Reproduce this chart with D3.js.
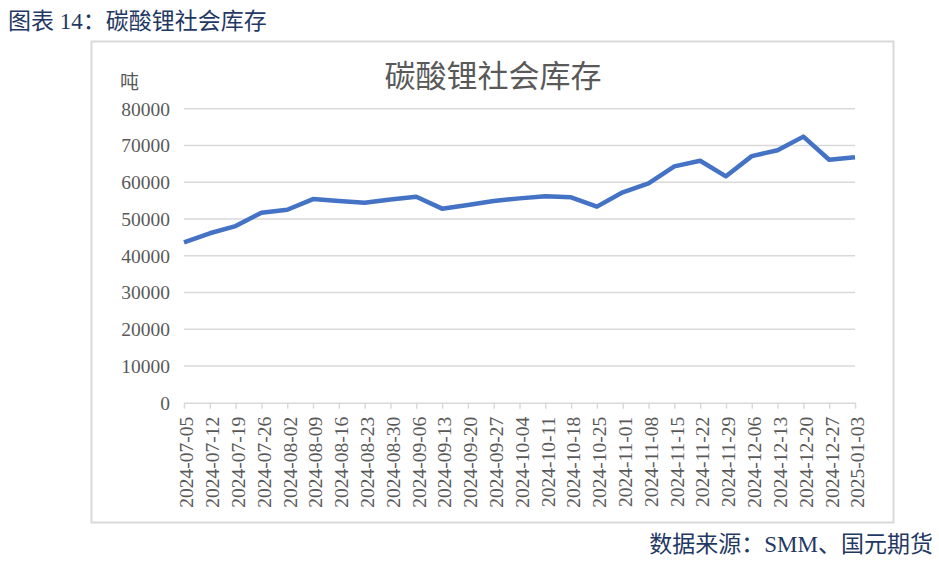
<!DOCTYPE html>
<html>
<head>
<meta charset="utf-8">
<script src="https://cdn.jsdelivr.net/npm/d3@7"></script>
<style>
  body { margin: 0; background: #fff; }
  text { font-family: "Liberation Serif", "Noto Sans CJK SC", serif; }
</style>
</head>
<body>
<div id="chart"></div>
<script>
// data
var dates = ["2024-07-05","2024-07-12","2024-07-19","2024-07-26","2024-08-02","2024-08-09",
  "2024-08-16","2024-08-23","2024-08-30","2024-09-06","2024-09-13","2024-09-20","2024-09-27",
  "2024-10-04","2024-10-11","2024-10-18","2024-10-25","2024-11-01","2024-11-08","2024-11-15",
  "2024-11-22","2024-11-29","2024-12-06","2024-12-13","2024-12-20","2024-12-27","2025-01-03"];
var stock = [43650, 46100, 48050, 51700, 52500, 55400, 54900, 54400, 55300, 56050, 52800, 53800, 54900,
  55600, 56150, 55900, 53350, 57250, 59700, 64300, 65850, 61600, 67100, 68700, 72400, 66100, 66800];
var yTicks = [0, 10000, 20000, 30000, 40000, 50000, 60000, 70000, 80000];

var W = 939, H = 565;
var svg = d3.select("#chart").append("svg").attr("width", W).attr("height", H);

// header + frame
svg.append("text").attr("x", 8).attr("y", 29)
  .attr("fill", "#1f3864").style("font-size", "23px")
  .text("图表 14：碳酸锂社会库存");

svg.append("rect").attr("x", 91.5).attr("y", 41.5).attr("width", 802).attr("height", 481)
  .attr("fill", "none").attr("stroke", "#d9d9d9").attr("stroke-width", 2);

svg.append("text").attr("x", 493).attr("y", 87).attr("text-anchor", "middle")
  .attr("fill", "#595959").style("font-size", "31px")
  .text("碳酸锂社会库存");

svg.append("text").attr("x", 120).attr("y", 89)
  .attr("fill", "#595959").style("font-size", "19px").text("吨");

// scales
var x = d3.scalePoint().domain(dates).range([184, 855]);
var y = d3.scaleLinear().domain([0, 80000]).range([402.7, 108.7]);

// grid
svg.append("g").selectAll("line").data(yTicks.slice(1)).enter().append("line")
  .attr("x1", 184).attr("x2", 855)
  .attr("y1", d => y(d)).attr("y2", d => y(d))
  .attr("stroke", "#d9d9d9").attr("stroke-width", 1.5);

// y axis labels
svg.append("g").selectAll("text").data(yTicks).enter().append("text")
  .attr("x", 170).attr("y", d => y(d)).attr("dy", "0.35em")
  .attr("text-anchor", "end").attr("fill", "#595959").style("font-size", "19.5px")
  .text(d => d);

// x axis
var xAxis = svg.append("g").attr("transform", `translate(0,${y(0)})`)
  .call(d3.axisBottom(x).tickSize(6).tickSizeOuter(0));
xAxis.select(".domain").attr("stroke", "#d9d9d9").attr("stroke-width", 1.5);
xAxis.selectAll(".tick line").attr("stroke", "#d9d9d9").attr("stroke-width", 1.5);
xAxis.selectAll(".tick text")
  .attr("fill", "#595959").style("font-size", "19.5px")
  .style("font-family", "Liberation Serif, serif")
  .attr("text-anchor", "end")
  .attr("transform", "translate(2,14) rotate(-90)")
  .attr("x", 0).attr("y", 0).attr("dy", "0.35em");

// line
svg.append("path").datum(stock)
  .attr("fill", "none").attr("stroke", "#4472c4").attr("stroke-width", 4.5)
  .attr("stroke-linejoin", "round")
  .attr("d", d3.line().x((d, i) => x(dates[i])).y(d => y(d)));

// source
svg.append("text").attr("x", 933).attr("y", 552).attr("text-anchor", "end")
  .attr("fill", "#1f3864").style("font-size", "23px")
  .text("数据来源：SMM、国元期货");
</script>
</body>
</html>
